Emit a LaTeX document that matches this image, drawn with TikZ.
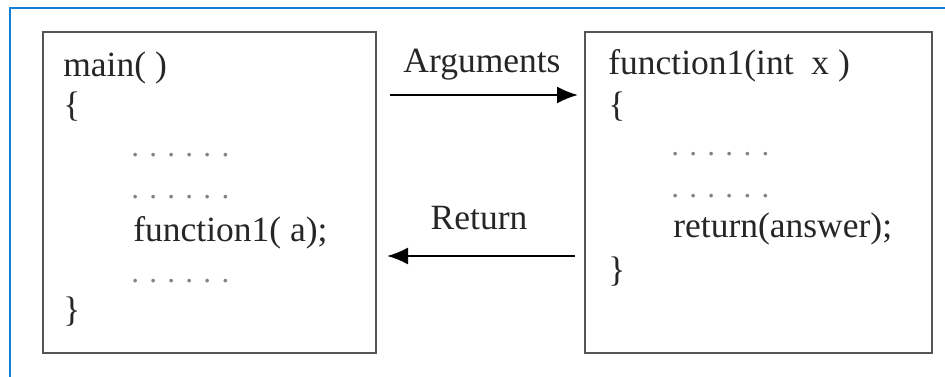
\documentclass[tikz,border=0pt]{standalone}
\usepackage{fontspec}
\setmainfont{Liberation Serif}
\usetikzlibrary{arrows.meta}

\definecolor{framecol}{RGB}{22,126,212}
\definecolor{boxcol}{RGB}{85,85,85}
\definecolor{dotcol}{RGB}{130,130,130}

\begin{document}
\begin{tikzpicture}[x=0.02cm, y=-0.02cm, >={Latex[length=4.2mm, width=3.4mm]},
    codebox/.style={draw=boxcol, line width=1.2pt, anchor=north west, inner sep=0pt},
    codetext/.style={font=\fontsize{20.2}{24}\selectfont, anchor=base west, inner sep=0pt, text=black!85},
    dotline/.style={font=\fontsize{17.6}{20}\selectfont, anchor=base west, inner sep=0pt, text=dotcol},
    arrlabel/.style={font=\fontsize{20.2}{24}\selectfont, anchor=base, inner sep=0pt, text=black!85}]

    \useasboundingbox (0,0) rectangle (945,377);

    % moldura azul (so topo e esquerda aparecem)
    \draw[framecol, line width=1.3pt] (10,377) -- (10,8) -- (945,8);

    % --- Caixas ---
    \node[codebox, minimum width=6.66cm, minimum height=6.42cm] (mainbox) at (42,31) {};
    \node[codebox, minimum width=6.94cm, minimum height=6.42cm] (funcbox) at (584,31) {};

    % Texto da caixa main
    \node[codetext] (m1) at (63,77) {main( )};
    \node[codetext] (m2) at (63,117) {\{};
    \node[dotline]  (m3) at (131,157) {. . . . . .};
    \node[dotline]  (m4) at (131,199) {. . . . . .};
    \node[codetext] (m5) at (133,242) {function1( a);};
    \node[dotline]  (m6) at (131,283) {. . . . . .};
    \node[codetext] (m7) at (63,322) {\}};

    % Texto da caixa function1
    \node[codetext] (f1) at (608,75) {function1(int\ \ x )};
    \node[codetext] (f2) at (608,117) {\{};
    \node[dotline]  (f3) at (671,156) {. . . . . .};
    \node[dotline]  (f4) at (671,198) {. . . . . .};
    \node[codetext] (f5) at (673,238) {return(answer);};
    \node[codetext] (f6) at (608,282) {\}};

    % --- Setas ---
    \coordinate (argA) at (390,95);
    \coordinate (argB) at (578,95);
    \coordinate (retA) at (575,256);
    \coordinate (retB) at (387,256);

    \draw[->, line width=1.2pt] (argA) -- (argB);
    \draw[->, line width=1.2pt] (retA) -- (retB);

    \node[arrlabel] (arglabel) at (482,73) {Arguments};
    \node[arrlabel] (retlabel) at (479,230) {Return};

\end{tikzpicture}
\end{document}
